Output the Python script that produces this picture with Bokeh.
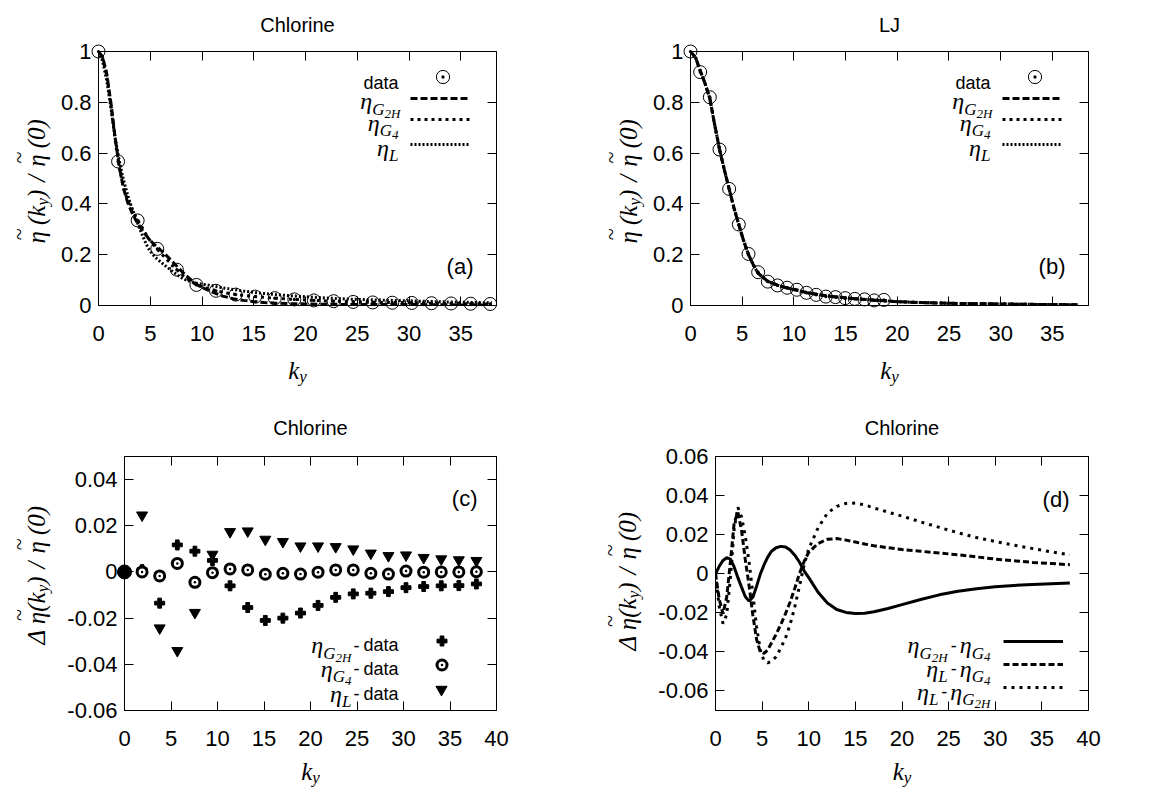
import math
import numpy as np
from bokeh.plotting import figure
from bokeh.models import (Range1d, Legend, LegendItem, LinearAxis,
                          FixedTicker, CustomJSTickFormatter)
from bokeh.layouts import column, row
from bokeh.core.properties import value
from bokeh.embed import file_html
from bokeh.resources import INLINE

# ---------------------------------------------------------------- data
# Chlorine: simulation data points (panel a / c)
chl_k = [0.0, 1.89, 3.78, 5.68, 7.57, 9.46, 11.35, 13.25, 15.14, 17.03, 18.92,
         20.81, 22.71, 24.60, 26.49, 28.38, 30.27, 32.17, 34.06, 35.95, 37.84]
chl_data = [1.0, 0.567, 0.335, 0.223, 0.141, 0.081, 0.058, 0.043, 0.035, 0.029, 0.024,
            0.020, 0.017, 0.014, 0.012, 0.011, 0.010, 0.009, 0.008, 0.007, 0.006]

# Chlorine: model curves sampled on a common k grid
curve_k = [0.0, 0.4, 0.8, 1.2, 1.6, 2.0, 2.4, 2.8, 3.2, 3.6,
           4.0, 4.4, 4.8, 5.2, 5.6, 6.0, 6.5, 7.0, 7.5, 8.0,
           8.5, 9.0, 9.5, 10.0, 11.0, 12.0, 13.0, 14.0, 15.0, 16.0, 17.0,
           18.5, 20.0, 22.0, 24.0, 26.0, 28.0, 30.0, 32.0, 34.0, 36.0, 38.0]
chl_G4 = [1.0, 0.975, 0.905, 0.79, 0.655, 0.545, 0.465, 0.415, 0.38, 0.35,
          0.322, 0.294, 0.266, 0.243, 0.225, 0.207, 0.186, 0.165, 0.144, 0.124,
          0.107, 0.093, 0.081, 0.073, 0.062, 0.052, 0.045, 0.04, 0.036, 0.032, 0.029,
          0.025, 0.022, 0.018, 0.015, 0.013, 0.012, 0.011, 0.009, 0.008, 0.007, 0.006]
# panel d: differences between models
diff_G2H_G4 = [0.0, 0.0038, 0.0068, 0.0082, 0.0075, 0.0035, -0.002, -0.007, -0.0118, -0.014,
               -0.012, -0.0065, -0.0003, 0.0045, 0.0085, 0.0115, 0.0133, 0.014, 0.0137, 0.0122,
               0.0095, 0.006, 0.0015, -0.002, -0.0095, -0.015, -0.0183, -0.0198, -0.0203, -0.0202, -0.0195,
               -0.0178, -0.0158, -0.0132, -0.0108, -0.009, -0.0077, -0.0067, -0.006, -0.0055, -0.0051, -0.0048]
diff_L_G4 = [0.0, -0.013, -0.0205, -0.012, 0.006, 0.026, 0.0315, 0.022, 0.007, -0.006,
             -0.021, -0.0335, -0.040, -0.0408, -0.039, -0.0355, -0.031, -0.026, -0.0205, -0.0145,
             -0.0075, 0.0, 0.0063, 0.011, 0.0155, 0.0176, 0.018, 0.0172, 0.0162, 0.0152, 0.0143,
             0.0133, 0.0124, 0.0115, 0.0106, 0.0097, 0.0086, 0.0075, 0.0066, 0.0058, 0.0052, 0.0046]
diff_L_G2H = [0.0, -0.017, -0.0255, -0.021, -0.002, 0.023, 0.034, 0.029, 0.019, 0.006,
              -0.01, -0.027, -0.039, -0.0445, -0.0456, -0.0448, -0.0425, -0.038, -0.033, -0.026,
              -0.017, -0.0065, 0.0045, 0.0128, 0.0235, 0.031, 0.0345, 0.036, 0.0362, 0.0352, 0.0337,
              0.0315, 0.0295, 0.0265, 0.0237, 0.021, 0.0185, 0.0165, 0.0146, 0.0129, 0.0112, 0.0097]

# panel c: model minus data at the data k points
dev_G2H = [0.0, 0.001, -0.0135, 0.0117, 0.009, 0.005, -0.006, -0.0154, -0.021, -0.020, -0.0178,
           -0.0145, -0.011, -0.0095, -0.0092, -0.0085, -0.0068, -0.0063, -0.006, -0.0059, -0.0052]
dev_G4 = [0.0, 0.0, -0.0017, 0.0037, -0.0045, -0.0003, 0.0013, 0.0009, -0.001, -0.0006, -0.0009,
          -0.0001, 0.0009, 0.0009, -0.0006, -0.0009, 0.0004, -0.0001, 0.0, 0.0, 0.0001]
dev_L = [0.0, 0.0246, -0.0243, -0.0341, -0.0176, 0.0076, 0.0174, 0.0177, 0.0141, 0.0131, 0.0112,
         0.0112, 0.0109, 0.0099, 0.0081, 0.007, 0.0073, 0.0062, 0.0056, 0.0052, 0.0049]

# LJ (panel b)
lj_k = [0.0, 0.935, 1.87, 2.805, 3.74, 4.675, 5.61, 6.545, 7.48, 8.415, 9.35,
        10.285, 11.22, 12.155, 13.09, 14.025, 14.96, 15.895, 16.83, 17.765, 18.7]
lj_data = [1.0, 0.919, 0.82, 0.614, 0.459, 0.319, 0.203, 0.131, 0.094, 0.079, 0.07,
           0.062, 0.05, 0.042, 0.035, 0.033, 0.029, 0.026, 0.024, 0.02, 0.022]
lj_curve_k = [0.0, 0.5, 0.935, 1.4, 1.87, 2.3, 2.805, 3.3, 3.74, 4.2,
              4.675, 5.1, 5.61, 6.1, 6.545, 7.48, 8.415, 9.35, 10.3, 11.2,
              12.2, 13.1, 14.0, 15.0, 15.9, 16.8, 17.8, 18.7,
              20.0, 22.0, 24.0, 26.0, 28.0, 30.0, 32.0, 34.0, 36.0, 37.6]
lj_model = [1.0, 0.975, 0.925, 0.875, 0.815, 0.72, 0.615, 0.53, 0.458, 0.385,
            0.318, 0.26, 0.2, 0.158, 0.127, 0.095, 0.08, 0.069, 0.06, 0.051,
            0.044, 0.038, 0.034, 0.03, 0.027, 0.024, 0.021, 0.019,
            0.015, 0.012, 0.01, 0.008, 0.007, 0.006, 0.005, 0.004, 0.0035, 0.003]

xticks_ab = [0, 5, 10, 15, 20, 25, 30, 35]
yticks_ab = [0, 0.2, 0.4, 0.6, 0.8, 1.0]
xticks_cd = [0, 5, 10, 15, 20, 25, 30, 35, 40]
yticks_c = [-0.06, -0.04, -0.02, 0, 0.02, 0.04]
yticks_d = [-0.06, -0.04, -0.02, 0, 0.02, 0.04, 0.06]

chl_G2H = (np.array(chl_G4) + np.array(diff_G2H_G4)).tolist()
chl_L = (np.array(chl_G4) + np.array(diff_L_G4)).tolist()

# ---------------------------------------------------------------- helpers
SANS = "Liberation Sans"
SERIF = "Liberation Serif"
EM_SERIF = {"η": 0.50, "G": 0.722, "H": 0.722, "L": 0.556, "2": 0.5, "4": 0.5,
            "k": 0.444, "y": 0.444, "(": 0.333, ")": 0.333, "0": 0.5, "/": 0.278,
            " ": 0.25, "Δ": 0.611, "~": 0.541}
EM_SANS = {"d": 0.556, "a": 0.556, "t": 0.278, "-": 0.333, " ": 0.278}


def text_w(text, fam, size):
    table = EM_SANS if fam == SANS else EM_SERIF
    return sum(table.get(c, 0.5) for c in text) * size


class Frame:
    def __init__(self, left, top, w, h, xr, yr):
        self.left, self.top, self.w, self.h, self.xr, self.yr = left, top, w, h, xr, yr

    def x(self, px):
        return self.xr[0] + (px - self.left) / self.w * (self.xr[1] - self.xr[0])

    def y(self, py):
        return self.yr[0] + (self.top + self.h - py) / self.h * (self.yr[1] - self.yr[0])


def put(p, fr, px, py, text, fam, size, style="normal", align="left", angle=0.0):
    p.text(x=[fr.x(px)], y=[fr.y(py)], text=[text], text_font=value(fam),
           text_font_size=f"{size}px", text_font_style=style,
           text_align=align, text_baseline="alphabetic", text_color="black",
           angle=angle, level="annotation")


def pw(pc):
    if isinstance(pc, (int, float)):
        return pc
    return text_w(pc[0], pc[1], pc[2])


def hcompose(p, fr, pieces, baseline, end=None, center=None):
    total = sum(pw(pc) for pc in pieces)
    cur = end - total if end is not None else center - total / 2
    for pc in pieces:
        if not isinstance(pc, (int, float)):
            text, fam, size, style, dy = pc
            put(p, fr, cur, baseline + dy, text, fam, size, style)
        cur += pw(pc)


def vcompose(p, fr, pieces, xb, y_start):
    cur = y_start
    for pc in pieces:
        if not isinstance(pc, (int, float)):
            text, fam, size, style, dy = pc
            put(p, fr, xb + dy, cur, text, fam, size, style, angle=math.pi / 2)
            if text == "η":
                put(p, fr, xb - 18, cur - pw(pc) / 2 - 3, "~", SERIF, 22, "normal",
                    align="center", angle=math.pi / 2)
        cur -= pw(pc)


def ETA(size=24):
    return ("η", SERIF, size, "italic", 0)


def SUB(t, size=17, dy=8):
    return (t, SERIF, size, "italic", dy)


def SS(t):
    return (t, SERIF, 13, "italic", 12)


def SANS_T(t, size=18):
    return (t, SANS, size, "normal", 0)


def M(t, size=25, dy=0):
    return (t, SERIF, size, "italic", dy)


def legend_glyph(p, fr, renderer, cx, cy, gw, gh):
    gw, gh = int(round(gw)), int(round(gh))
    lg = Legend(items=[LegendItem(label=value(""), renderers=[renderer])],
                location=(cx - gw / 2 - fr.left, fr.top + fr.h - cy - gh / 2),
                glyph_width=gw, glyph_height=gh, padding=0, margin=0, spacing=0,
                label_standoff=0, label_width=0, label_height=0,
                label_text_font_size="1px", border_line_color=None,
                background_fill_color=None)
    p.add_layout(lg)


LABEL_FMT = "return String(Math.round(tick*1000)/1000);"


def style_axis(ax, ticks, labels=True, standoff=10):
    ax.ticker = FixedTicker(ticks=ticks)
    ax.major_tick_in = 9
    ax.major_tick_out = 0
    ax.minor_tick_in = 0
    ax.minor_tick_out = 0
    ax.major_tick_line_color = "black"
    ax.major_tick_line_width = 1
    ax.axis_line_color = "black"
    ax.axis_line_width = 1
    ax.major_label_text_font = SANS
    ax.major_label_text_font_size = "22px"
    ax.major_label_text_color = "black"
    ax.major_label_standoff = standoff
    ax.formatter = CustomJSTickFormatter(code=LABEL_FMT if labels else "return '';")


def make_fig(fig_left, fig_top, width, height, fl, ft, fw, fh, xr, yr, xt, yt):
    bl = fl - fig_left
    bt = ft - fig_top
    br = width - bl - fw
    bb = height - bt - fh
    p = figure(width=width, height=height, x_range=Range1d(*xr), y_range=Range1d(*yr),
               output_backend="svg", toolbar_location=None,
               min_border_left=bl, min_border_right=br,
               min_border_top=bt, min_border_bottom=bb)
    p.xgrid.visible = False
    p.ygrid.visible = False
    p.background_fill_color = "white"
    p.border_fill_color = "white"
    p.outline_line_color = "black"
    p.outline_line_width = 1
    p.outline_line_alpha = 1.0
    style_axis(p.xaxis[0], xt, True, 20)
    style_axis(p.yaxis[0], yt, True, 7)
    ax_top = LinearAxis()
    style_axis(ax_top, xt, False, 0)
    p.add_layout(ax_top, "above")
    ax_r = LinearAxis()
    style_axis(ax_r, yt, False, 0)
    p.add_layout(ax_r, "right")
    return p, Frame(fl, ft, fw, fh, xr, yr)


def top_panel_deco(p, fr, title, tag, r_data, r_g2h, r_g4, r_l):
    L, T = fr.left, fr.top
    put(p, fr, L + 199, T - 27, title, SANS, 20, align="center")
    put(p, fr, L + 375, T + 214.5, tag, SANS, 22, align="right")
    # legend
    put(p, fr, L + 300, T + 31, "data", SANS, 18, align="right")
    legend_glyph(p, fr, r_data, L + 344, T + 25, 33, 33)
    legend_glyph(p, fr, r_g2h, L + 342, T + 46.7, 60, 10)
    legend_glyph(p, fr, r_g4, L + 342, T + 68, 60, 10)
    legend_glyph(p, fr, r_l, L + 342, T + 93.3, 60, 10)
    hcompose(p, fr, [ETA(), SUB("G"), SS("2H")], T + 49.7, end=L + 302)
    hcompose(p, fr, [ETA(), SUB("G"), SS("4")], T + 71, end=L + 300)
    hcompose(p, fr, [ETA(), SUB("L")], T + 96.3, end=L + 300)
    # axis labels
    hcompose(p, fr, [M("k"), M("y", 17, 6)], T + 319, center=L + 199)
    vcompose(p, fr, [ETA(25), 6, M("("), M("k"), M("y", 17, 6), M(")"), 8, M("/"), 8,
                     ETA(25), 6, M("(0)")], L - 62.5, T + 192)


def bottom_ylabel(p, fr, y_start):
    vcompose(p, fr, [M("Δ"), 5, ETA(25), M("("), M("k"), M("y", 17, 6), M(")"), 8, M("/"), 8,
                     ETA(25), 6, M("(0)")], fr.left - 88, y_start)


# ---------------------------------------------------------------- panel (a)
pa, fa = make_fig(0, 0, 586, 394, 98, 51, 398, 254, (0, 38.45), (0, 1), xticks_ab, yticks_ab)
ra_g2h = pa.line(curve_k, chl_G2H, line_color="black", line_width=3, line_dash="7 3")
ra_g4 = pa.line(curve_k, chl_G4, line_color="black", line_width=3, line_dash="3 4")
ra_l = pa.line(curve_k, chl_L, line_color="black", line_width=3, line_dash="2 2")
ra_d = pa.scatter(chl_k, chl_data, marker="circle_dot", size=13, fill_color=None,
                  line_color="black", line_width=1, level="annotation")
top_panel_deco(pa, fa, "Chlorine", "(a)", ra_d, ra_g2h, ra_g4, ra_l)

# ---------------------------------------------------------------- panel (b)
pb, fb = make_fig(586, 0, 584, 394, 690, 51, 398, 254, (0, 38.5), (0, 1), xticks_ab, yticks_ab)
rb_g2h = pb.line(lj_curve_k, lj_model, line_color="black", line_width=3, line_dash="7 3")
rb_g4 = pb.line(lj_curve_k, lj_model, line_color="black", line_width=3, line_dash="3 4")
rb_l = pb.line(lj_curve_k, lj_model, line_color="black", line_width=3, line_dash="2 2")
rb_d = pb.scatter(lj_k, lj_data, marker="circle_dot", size=13, fill_color=None,
                  line_color="black", line_width=1, level="annotation")
top_panel_deco(pb, fb, "LJ", "(b)", rb_d, rb_g2h, rb_g4, rb_l)

# ---------------------------------------------------------------- panel (c)
pc, fc = make_fig(0, 394, 586, 393, 124, 456, 372, 254, (0, 40), (-0.06, 0.05), xticks_cd, yticks_c)
rc_p = pc.scatter(chl_k, dev_G2H, marker="plus", size=10, color="black", level="annotation")
rc_t = pc.scatter(chl_k, dev_L, marker="inverted_triangle", size=11, color="black",
                  level="annotation")
rc_c = pc.scatter(chl_k, dev_G4, marker="circle_dot", size=10, fill_color="white",
                  line_color="black", line_width=3, level="annotation")
pc.scatter(chl_k[:1], dev_G4[:1], marker="circle", size=14, color="black", level="annotation")
L, T = fc.left, fc.top
put(pc, fc, L + 186, T - 29, "Chlorine", SANS, 20, align="center")
put(pc, fc, L + 353, T + 42, "(c)", SANS, 22, align="right")
legend_glyph(pc, fc, rc_p, L + 317, T + 184.7, 25, 25)
legend_glyph(pc, fc, rc_c, L + 317, T + 208.7, 25, 25)
legend_glyph(pc, fc, rc_t, L + 317, T + 233, 28, 28)
hcompose(pc, fc, [ETA(), SUB("G"), SS("2H"), 2, SANS_T("-"), 4, SANS_T("data")], T + 188.7, end=L + 274)
hcompose(pc, fc, [ETA(), SUB("G"), SS("4"), 2, SANS_T("-"), 4, SANS_T("data")], T + 212, end=L + 274)
hcompose(pc, fc, [ETA(), SUB("L"), 2, SANS_T("-"), 4, SANS_T("data")], T + 237, end=L + 274)
hcompose(pc, fc, [M("k"), M("y", 17, 6)], T + 315, center=L + 186)
bottom_ylabel(pc, fc, T + 188)

# ---------------------------------------------------------------- panel (d)
pd_, fd = make_fig(586, 394, 584, 393, 715, 456, 373, 254, (0, 40), (-0.07, 0.06), xticks_cd, yticks_d)
rd_s = pd_.line(curve_k, diff_G2H_G4, line_color="black", line_width=3)
rd_d = pd_.line(curve_k, diff_L_G4, line_color="black", line_width=3, line_dash="6 3")
rd_o = pd_.line(curve_k, diff_L_G2H, line_color="black", line_width=3, line_dash="3 5")
L, T = fd.left, fd.top
put(pd_, fd, L + 186.5, T - 29, "Chlorine", SANS, 20, align="center")
put(pd_, fd, L + 354, T + 43, "(d)", SANS, 22, align="right")
legend_glyph(pd_, fd, rd_s, L + 318, T + 184.7, 60, 10)
legend_glyph(pd_, fd, rd_d, L + 318, T + 208, 60, 10)
legend_glyph(pd_, fd, rd_o, L + 318, T + 231.3, 60, 10)
hcompose(pd_, fd, [ETA(), SUB("G"), SS("2H"), 3, SANS_T("-"), 3, ETA(), SUB("G"), SS("4")],
         T + 188.7, end=L + 275)
hcompose(pd_, fd, [ETA(), SUB("L"), 3, SANS_T("-"), 3, ETA(), SUB("G"), SS("4")],
         T + 212, end=L + 275)
hcompose(pd_, fd, [ETA(), SUB("L"), 3, SANS_T("-"), 3, ETA(), SUB("G"), SS("2H")],
         T + 235.3, end=L + 275)
hcompose(pd_, fd, [M("k"), M("y", 17, 6)], T + 315, center=L + 186.5)
bottom_ylabel(pd_, fd, T + 194)

layout = column(row(pa, pb), row(pc, pd_))
open("out.html", "w").write(file_html(layout, INLINE))
